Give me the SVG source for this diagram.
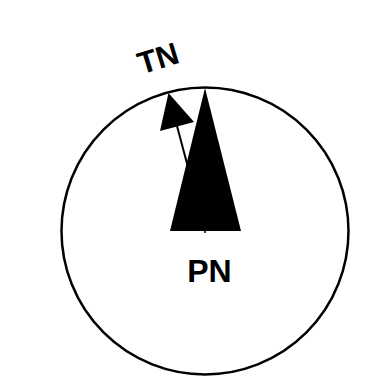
<svg xmlns="http://www.w3.org/2000/svg" width="365" height="377" viewBox="0 0 365 377">
<style>
.lbl{font-family:"Liberation Sans",Arial,sans-serif;font-weight:bold;fill:#000}
</style>
<rect width="365" height="377" fill="#fff"/>
<g id="dial">
<circle cx="205" cy="231" r="143.5" fill="none" stroke="#000" stroke-width="2.5"/>
</g>
<g id="pn-arrow">
<polygon points="205,88 170,231 241,231" fill="#000"/>
<line x1="205" y1="231" x2="205" y2="233" stroke="#000" stroke-width="1.5"/>
</g>
<g id="tn-arrow">
<line x1="205" y1="231" x2="177" y2="126" stroke="#000" stroke-width="2"/>
<polygon points="168.5,93 160,131 194,122" fill="#000"/>
</g>
<g id="labels">
<text class="lbl" x="158" y="69" font-size="31" text-anchor="middle" transform="rotate(-17 158 58)">TN</text>
<text class="lbl" x="209.5" y="282" font-size="32" text-anchor="middle">PN</text>
</g>
</svg>
